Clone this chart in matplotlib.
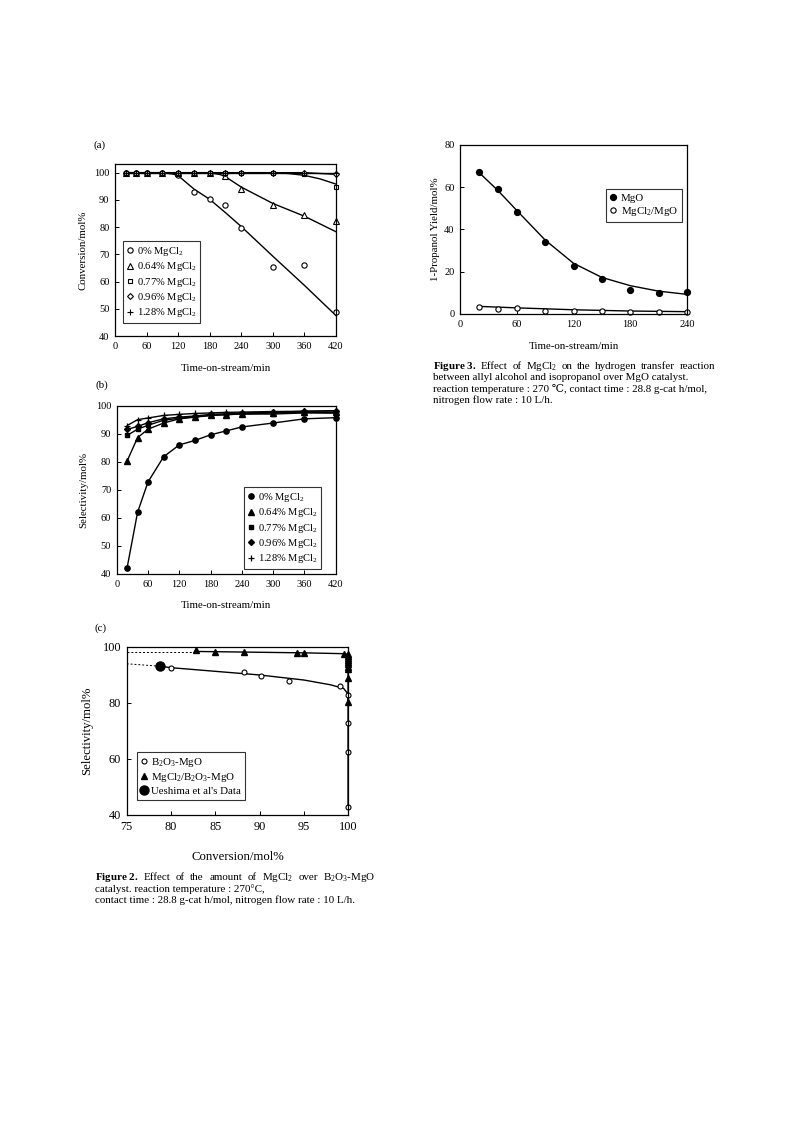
import matplotlib
matplotlib.use("Agg")
import matplotlib.pyplot as plt

plt.rcParams["font.family"] = ["Liberation Serif", "DejaVu Serif"]
plt.rcParams["mathtext.fontset"] = "custom"
plt.rcParams["mathtext.rm"] = "Liberation Serif"
plt.rcParams["mathtext.it"] = "Liberation Serif:italic"
plt.rcParams["mathtext.bf"] = "Liberation Serif:bold"

# ---------- Daten (a): Umsatz ----------
t_a = [20, 40, 60, 90, 120, 150, 180, 210, 240, 300, 360, 420]
conv_0 = [100, 100, 100, 100, 99.1, 93.0, 90.2, 88.3, 79.7, 65.2, 66.0, 48.8]
conv_064 = [100, 100, 100, 100, 100, 100, 100, 98.8, 94.0, 88.3, 84.4, 82.2]
conv_077 = [100, 100, 100, 100, 100, 100, 100, 100, 100, 100, 99.5, 94.8]
conv_096 = [100, 100, 100, 100, 100, 100, 100, 100, 100, 100, 100, 99.4]
conv_128 = [100, 100, 100, 100, 100, 100, 100, 100, 100, 100, 100, 99.8]

# Ausgleichskurven (a)
fit0_t = [20, 90, 110, 120, 150, 180, 210, 240, 300, 360, 420]
fit0_y = [100, 100, 99.5, 98.9, 94.0, 90.2, 85.3, 80.2, 69.3, 58.6, 47.5]
fit064_t = [20, 180, 200, 210, 240, 300, 360, 420]
fit064_y = [100, 100, 99.3, 98.5, 94.7, 88.7, 84.0, 78.3]
fit077_t = [20, 300, 330, 360, 390, 420]
fit077_y = [100, 100, 99.7, 99.0, 97.7, 95.8]
fit096_t = [20, 360, 420]
fit096_y = [100, 100, 99.4]
fit128_t = [20, 420]
fit128_y = [100, 100]

# ---------- Daten (b): Selektivitaet ----------
t_b = [20, 40, 60, 90, 120, 150, 180, 210, 240, 300, 360, 420]
sel_0 = [42.3, 62.0, 72.8, 81.8, 86.0, 87.6, 89.6, 91.0, 92.4, 93.8, 95.3, 95.7]
sel_064 = [80.3, 88.6, 91.6, 93.8, 95.3, 95.9, 96.5, 96.8, 97.0, 97.4, 97.6, 97.6]
sel_077 = [89.4, 91.6, 93.0, 94.8, 95.5, 96.0, 96.5, 96.8, 97.0, 97.0, 97.4, 97.3]
sel_096 = [91.5, 92.6, 93.9, 95.3, 95.9, 96.3, 96.9, 97.1, 97.4, 97.6, 98.0, 98.1]
sel_128 = [92.9, 95.0, 95.6, 96.5, 96.9, 97.2, 97.4, 97.6, 97.7, 97.9, 98.0, 98.2]

# ---------- Daten (c): Selektivitaet vs. Umsatz ----------
c_conv_b = [80.0, 88.3, 90.2, 93.3, 99.1, 100, 100, 100, 100]
c_sel_b = [92.5, 91.0, 89.8, 87.8, 86.2, 83.0, 73.0, 62.5, 42.8]
c_conv_m = [82.8, 85.0, 88.2, 94.2, 95.0, 99.5, 100, 100, 100, 100, 100,
            100, 100, 100, 100, 100]
c_sel_m = [98.8, 98.3, 98.2, 97.8, 97.9, 97.6, 97.6, 96.9, 96.2, 95.5, 94.7,
           93.9, 93.0, 92.0, 89.0, 80.5]
ueshima_conv = [78.8]
ueshima_sel = [93.1]

fitb_dash_x = [75, 78.8]
fitb_dash_y = [94.0, 93.1]
fitb_x = [78.8, 80, 85, 90, 95, 98, 99.5, 100, 100]
fitb_y = [93.1, 92.6, 91.3, 90.0, 88.2, 86.5, 85.2, 83.2, 42.8]
fitm_dash_x = [75, 82.8]
fitm_dash_y = [98.3, 98.3]
fitm_x = [82.8, 90, 95, 99.5, 100, 100]
fitm_y = [98.4, 98.1, 97.9, 97.6, 97.3, 80.5]

# ---------- Daten Figure 3: 1-Propanol-Ausbeute ----------
t_3 = [20, 40, 60, 90, 120, 150, 180, 210, 240]
yield_mgo = [67.2, 59.3, 48.4, 34.1, 22.8, 16.7, 11.2, 9.9, 10.2]
yield_mgcl = [3.2, 2.4, 2.8, 1.5, 1.3, 1.2, 1.0, 0.8, 0.8]
fit_mgo = [67.0, 58.5, 49.0, 35.0, 24.0, 17.3, 13.4, 10.8, 9.3]
fit_mgcl_t = [20, 60, 120, 180, 240]
fit_mgcl = [3.6, 2.9, 2.0, 1.4, 1.1]

legend_a = [r"0% MgCl$_\mathrm{2}$", r"0.64% MgCl$_\mathrm{2}$", r"0.77% MgCl$_\mathrm{2}$",
            r"0.96% MgCl$_\mathrm{2}$", r"1.28% MgCl$_\mathrm{2}$"]

LW = 1.0
W, H = 793, 1123


def style_axes(ax, fs):
    ax.tick_params(direction="in", length=3, width=0.7, labelsize=fs, pad=4)
    for sp in ax.spines.values():
        sp.set_linewidth(0.9)


def make_legend(ax, loc, anchor, fs):
    leg = ax.legend(loc=loc, bbox_to_anchor=anchor, fontsize=fs, frameon=True,
                    fancybox=False, edgecolor="black", handlelength=0.6,
                    handletextpad=0.4, labelspacing=0.22, borderpad=0.35,
                    borderaxespad=0)
    leg.get_frame().set_linewidth(0.8)
    return leg


def caption_line(fig, x0, y, text, fs, x1=None):
    # Zeile linksbuendig oder (mit x1) im Blocksatz setzen
    if x1 is None:
        fig.text(x0 / W, 1 - y / H, text, fontsize=fs, ha="left", va="center")
        return
    words = text.split("|")
    r = fig.canvas.get_renderer()
    items = [fig.text(0, 1 - y / H, w, fontsize=fs, ha="left", va="center")
             for w in words]
    widths = [t.get_window_extent(r).width for t in items]
    gap = (x1 - x0 - sum(widths)) / (len(words) - 1)
    x = x0
    for t, w in zip(items, widths):
        t.set_x(x / W)
        x += w + gap


fig = plt.figure(figsize=(7.93, 11.23), dpi=100)

# ---------- (a) ----------
ax = fig.add_axes([0.145, 0.7008, 0.2787, 0.1532])
for ft, fy in [(fit0_t, fit0_y), (fit064_t, fit064_y), (fit077_t, fit077_y),
               (fit096_t, fit096_y), (fit128_t, fit128_y)]:
    ax.plot(ft, fy, color="black", lw=LW)
mk = dict(ls="none", mec="black", mew=0.8, clip_on=False)
ax.plot(t_a, conv_0, marker="o", ms=3.8, mfc="white", label=legend_a[0], **mk)
ax.plot(t_a, conv_064, marker="^", ms=4.0, mfc="white", label=legend_a[1], **mk)
ax.plot(t_a, conv_077, marker="s", ms=3.5, mfc="white", label=legend_a[2], **mk)
ax.plot(t_a, conv_096, marker="D", ms=3.0, mfc="white", label=legend_a[3], **mk)
ax.plot(t_a, conv_128, marker="+", ms=4.5, color="black", label=legend_a[4], **mk)
ax.set_xlim(0, 420)
ax.set_ylim(40, 103.2)
ax.set_xticks([0, 60, 120, 180, 240, 300, 360, 420])
ax.set_yticks([40, 50, 60, 70, 80, 90, 100])
style_axes(ax, 7.5)
ax.set_xlabel("Time-on-stream/min", fontsize=7.8, va="center")
ax.set_ylabel("Conversion/mol%", fontsize=7.8, va="center")
ax.xaxis.set_label_coords(0.5, -0.186)
ax.yaxis.set_label_coords(-0.145, 0.5)
make_legend(ax, "lower left", (0.035, 0.076), 7.6)
ax.text(-0.068, 1.11, "(a)", transform=ax.transAxes, fontsize=8,
        ha="center", va="center")

# ---------- (b) ----------
ax = fig.add_axes([0.1472, 0.4889, 0.2762, 0.1499])
for sy in [sel_0, sel_064, sel_077, sel_096, sel_128]:
    ax.plot(t_b, sy, color="black", lw=LW)
mk = dict(ls="none", color="black", clip_on=False)
ax.plot(t_b, sel_0, marker="o", ms=3.8, label=legend_a[0], **mk)
ax.plot(t_b, sel_064, marker="^", ms=4.0, label=legend_a[1], **mk)
ax.plot(t_b, sel_077, marker="s", ms=3.5, label=legend_a[2], **mk)
ax.plot(t_b, sel_096, marker="D", ms=3.0, label=legend_a[3], **mk)
ax.plot(t_b, sel_128, marker="+", ms=4.5, mew=0.9, label=legend_a[4], **mk)
ax.set_xlim(0, 420)
ax.set_ylim(40, 100)
ax.set_xticks([0, 60, 120, 180, 240, 300, 360, 420])
ax.set_yticks([40, 50, 60, 70, 80, 90, 100])
style_axes(ax, 7.5)
ax.set_xlabel("Time-on-stream/min", fontsize=7.8, va="center")
ax.set_ylabel("Selectivity/mol%", fontsize=7.8, va="center")
ax.xaxis.set_label_coords(0.5, -0.19)
ax.yaxis.set_label_coords(-0.152, 0.5)
make_legend(ax, "lower left", (0.58, 0.03), 7.6)
ax.text(-0.068, 1.12, "(b)", transform=ax.transAxes, fontsize=8,
        ha="center", va="center")

# ---------- (c) ----------
ax = fig.add_axes([0.1598, 0.2743, 0.2791, 0.1496])
ax.plot(fitb_dash_x, fitb_dash_y, color="black", lw=0.7, ls=(0, (2, 2)))
ax.plot(fitm_dash_x, fitm_dash_y, color="black", lw=0.7, ls=(0, (2, 2)))
ax.plot(fitb_x, fitb_y, color="black", lw=LW)
ax.plot(fitm_x, fitm_y, color="black", lw=LW)
ax.plot(c_conv_b, c_sel_b, ls="none", marker="o", ms=3.6, mfc="white",
        mec="black", mew=0.8, clip_on=False,
        label=r"B$_\mathrm{2}$O$_\mathrm{3}$-MgO")
ax.plot(c_conv_m, c_sel_m, ls="none", marker="^", ms=4.0, color="black",
        clip_on=False, label=r"MgCl$_\mathrm{2}$/B$_\mathrm{2}$O$_\mathrm{3}$-MgO")
ax.plot(ueshima_conv, ueshima_sel, ls="none", marker="o", ms=6.5, color="black",
        label="Ueshima et al's Data")
ax.set_xlim(75, 100)
ax.set_ylim(40, 100)
ax.set_xticks([75, 80, 85, 90, 95, 100])
ax.set_yticks([40, 60, 80, 100])
style_axes(ax, 8.8)
ax.set_xlabel("Conversion/mol%", fontsize=9.2, va="center")
ax.set_ylabel("Selectivity/mol%", fontsize=9.2, va="center")
ax.xaxis.set_label_coords(0.5, -0.25)
ax.yaxis.set_label_coords(-0.18, 0.5)
make_legend(ax, "lower left", (0.045, 0.09), 7.8)
ax.text(-0.12, 1.11, "(c)", transform=ax.transAxes, fontsize=8,
        ha="center", va="center")

# ---------- Figure 3 ----------
ax = fig.add_axes([0.5801, 0.7204, 0.2863, 0.1505])
ax.plot(t_3, fit_mgo, color="black", lw=LW)
ax.plot(fit_mgcl_t, fit_mgcl, color="black", lw=LW)
ax.plot(t_3, yield_mgo, ls="none", marker="o", ms=4.2, color="black",
        clip_on=False, label="MgO")
ax.plot(t_3, yield_mgcl, ls="none", marker="o", ms=3.8, mfc="white", mec="black",
        mew=0.8, clip_on=False, label=r"MgCl$_\mathrm{2}$/MgO")
ax.set_xlim(0, 240)
ax.set_ylim(0, 80)
ax.set_xticks([0, 60, 120, 180, 240])
ax.set_yticks([0, 20, 40, 60, 80])
style_axes(ax, 7.5)
ax.set_xlabel("Time-on-stream/min", fontsize=7.8, va="center")
ax.set_ylabel("1-Propanol Yield/mol%", fontsize=7.8, va="center")
ax.xaxis.set_label_coords(0.5, -0.193)
ax.yaxis.set_label_coords(-0.11, 0.5)
make_legend(ax, "lower left", (0.643, 0.546), 7.8)

# ---------- Bildunterschriften ----------
fs_cap = 7.9
caption_line(fig, 95, 878,
             r"$\mathbf{Figure\ 2.}$|Effect|of|the|amount|of|MgCl$_\mathrm{2}$|over|B$_\mathrm{2}$O$_\mathrm{3}$-MgO",
             fs_cap, x1=375)
caption_line(fig, 95, 889, "catalyst. reaction temperature : 270°C,", fs_cap)
caption_line(fig, 95, 900,
             "contact time : 28.8 g-cat h/mol, nitrogen flow rate : 10 L/h.",
             fs_cap)

caption_line(fig, 433, 366,
             r"$\mathbf{Figure\ 3.}$|Effect|of|MgCl$_\mathrm{2}$|on|the|hydrogen|transfer|reaction",
             fs_cap, x1=715)
caption_line(fig, 433, 377.5,
             "between allyl alcohol and isopropanol over MgO catalyst.", fs_cap)
caption_line(fig, 433, 389,
             "reaction temperature : 270 \u2103, contact time : 28.8 g-cat h/mol,",
             fs_cap)
caption_line(fig, 433, 400.5, "nitrogen flow rate : 10 L/h.", fs_cap)

fig.savefig("out.png", dpi=100, facecolor="white")
